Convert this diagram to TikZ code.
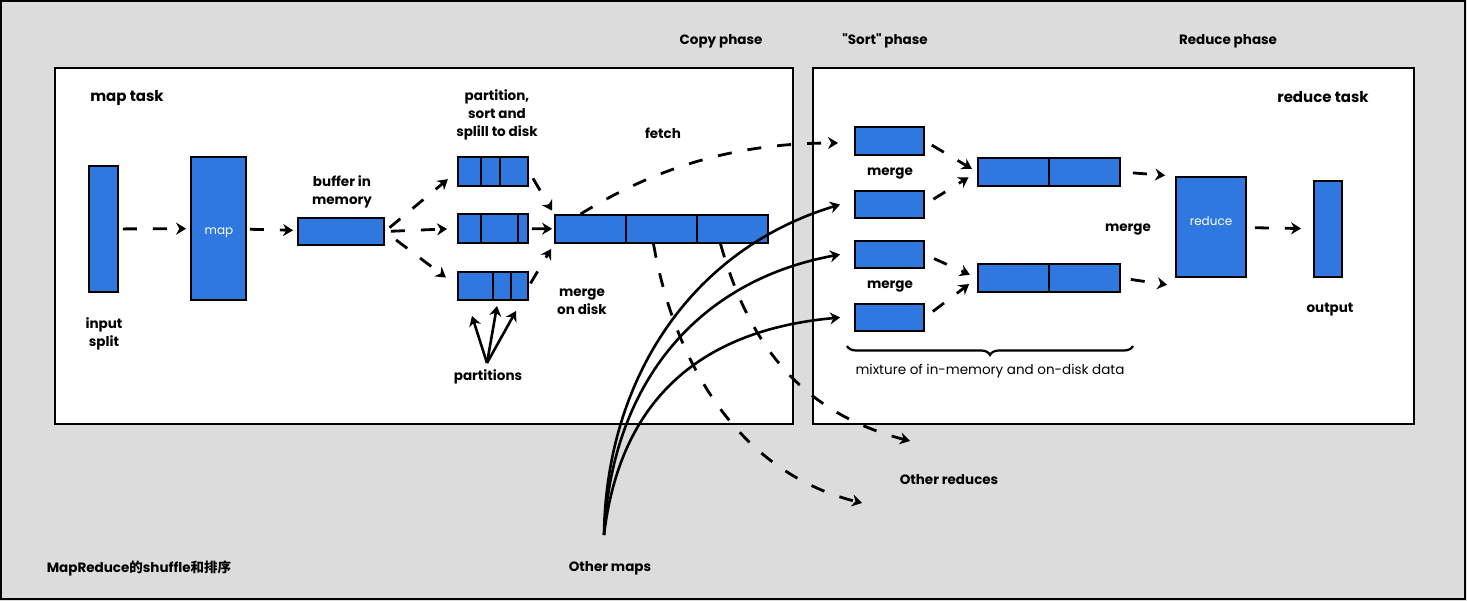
\documentclass[tikz,border=0pt]{standalone}
\usepackage{fontspec}
\setmainfont{Poppins}
\newfontfamily\plainq{Poppins}[Ligatures=TeXOff]
\newfontfamily\cjk{Noto Sans CJK SC}
\usetikzlibrary{arrows.meta,decorations.pathreplacing}
\definecolor{boxblue}{HTML}{2E78E0}
\definecolor{bggray}{HTML}{DCDCDC}
\begin{document}
\begin{tikzpicture}[x=1pt,y=-1pt,
  blk/.style={draw=black,fill=boxblue,line width=1.8pt,inner sep=0pt},
  panel/.style={draw=black,fill=white,line width=2pt},
  lbl/.style={font=\fontsize{13.5}{18}\selectfont\bfseries,align=center,inner sep=0pt},
  title/.style={font=\fontsize{15}{18}\selectfont\bfseries,inner sep=0pt},
  intext/.style={text=white,font=\fontsize{12}{14}\selectfont,inner sep=0pt},
  dasharrow/.style={line width=2.8pt,dash pattern=on 14pt off 16pt,-{Stealth[length=10pt,width=12pt]}},
  solidarrow/.style={line width=2.6pt,-{Stealth[length=10pt,width=12pt]}},
  divider/.style={line width=2.2pt}
]
\useasboundingbox (0,0) rectangle (1467,601);
\fill[bggray] (0,0) rectangle (1467,601);
\draw[line width=2pt] (1,1) rectangle (1465,599);
% panels
\draw[panel] (55,68) rectangle (793,424);
\draw[panel] (813,68) rectangle (1414,424);
% phase labels
\node[lbl] (copyph) at (721,41) {Copy phase};
\node[lbl] (sortph) at (885,41) {{\plainq "}Sort{\plainq "} phase};
\node[lbl] (redph) at (1228,41) {Reduce phase};
\node[title] (maptask) at (127,98) {map task};
\node[title] (redtask) at (1323,97) {reduce task};
% map side blocks
\node[blk,minimum width=29pt,minimum height=126pt] (insplit) at (103.5,229) {};
\node[blk,minimum width=55pt,minimum height=143pt] (map) at (218.5,228.5) {};
\node[intext] (maptxt) at (219,233) {map};
\node[blk,minimum width=86pt,minimum height=27pt] (buf) at (341,231.5) {};
\node[blk,minimum width=70pt,minimum height=29pt] (p1) at (493,171.5) {};
\node[blk,minimum width=70pt,minimum height=29pt] (p2) at (493,228.5) {};
\node[blk,minimum width=70pt,minimum height=28pt] (p3) at (493,286) {};
\draw[divider] (481,157) -- (481,186) (500,157) -- (500,186);
\draw[divider] (481,214) -- (481,243) (518,214) -- (518,243);
\draw[divider] (493,272) -- (493,300) (511,272) -- (511,300);
\node[blk,minimum width=71pt,minimum height=28pt] (m1) at (590.5,229) {};
\node[blk,minimum width=71pt,minimum height=28pt] (m2) at (661.5,229) {};
\node[blk,minimum width=71pt,minimum height=28pt] (m3) at (732.5,229) {};
% map side labels
\node[lbl] (inlbl) at (104,334) {input\\split};
\node[lbl] (buflbl) at (342,192) {buffer in\\memory};
\node[lbl] (partlbl) at (497,115) {partition,\\sort and\\splill to disk};
\node[lbl] (fetchlbl) at (663,133) {fetch};
\node[lbl] (mdlbl) at (582,302) {merge\\on disk};
\node[lbl] (partslbl) at (488,377) {partitions};
\coordinate (pfan) at (487,363);
\coordinate (pt1) at (472,316);
\coordinate (pt2) at (497,306);
\coordinate (pt3) at (516,311);
\draw[solidarrow] (pfan) -- (pt1);
\draw[solidarrow] (pfan) -- (pt2);
\draw[solidarrow] (pfan) -- (pt3);
% reduce side blocks
\node[blk,minimum width=69pt,minimum height=28pt] (r1) at (889.5,141) {};
\node[blk,minimum width=69pt,minimum height=27pt] (r2) at (889.5,204.5) {};
\node[blk,minimum width=69pt,minimum height=27pt] (r3) at (889.5,254.5) {};
\node[blk,minimum width=69pt,minimum height=27pt] (r4) at (889.5,317.5) {};
\node[blk,minimum width=71pt,minimum height=28pt] (g1a) at (1013.5,172) {};
\node[blk,minimum width=71pt,minimum height=28pt] (g1b) at (1084.5,172) {};
\node[blk,minimum width=71pt,minimum height=28pt] (g2a) at (1013.5,278) {};
\node[blk,minimum width=71pt,minimum height=28pt] (g2b) at (1084.5,278) {};
\node[blk,minimum width=70pt,minimum height=100pt] (red) at (1211,227) {};
\node[intext] (redtxt) at (1211,221) {reduce};
\node[blk,minimum width=28pt,minimum height=96pt] (out) at (1328,229) {};
\node[lbl] (mg1) at (890,174) {merge};
\node[lbl] (mg2) at (890,287) {merge};
\node[lbl] (mg3) at (1128,230) {merge};
\node[lbl] (outlbl) at (1330,310) {output};
\draw[line width=2.2pt,decorate,decoration={brace,amplitude=9pt,mirror}] (847,346) -- (1133,346);
\node[font=\fontsize{13.5}{16}\selectfont,inner sep=0pt] (mixlbl) at (990,371) {mixture of in-memory and on-disk data};
% bottom labels
\node[lbl] (othred) at (949,480) {Other reduces};
\node[lbl] (othmap) at (610,568) {Other maps};
\node[lbl] (caption) at (139,568) {MapReduce{\cjk 的}shuffle{\cjk 和排序}};
% map side connectors
\draw[dasharrow,shorten <=4pt,shorten >=4pt] (insplit) -- (map);
\draw[dasharrow,shorten <=3pt,shorten >=4pt] (map) -- (buf);
\draw[dasharrow,shorten <=6pt,shorten >=12pt] (buf.east) -- (p1.west);
\draw[dasharrow,shorten <=6pt,shorten >=10pt] (buf.east) -- (p2.west);
\draw[dasharrow,shorten <=14pt,shorten >=14pt] (buf.east) -- (p3.west);
\draw[dasharrow,shorten <=8pt,shorten >=4pt] (p1.east) -- (m1.north west);
\draw[dasharrow,shorten <=3pt,shorten >=2pt] (p2) -- (m1);
\draw[dasharrow,shorten <=3pt,shorten >=6pt] (p3.east) -- (m1.south west);
% fetch and other reduces
\coordinate (fetchend) at (838,143);
\coordinate (ored1) at (862,503);
\coordinate (ored2) at (910,441);
\draw[dasharrow] ([xshift=-10pt]m1.north) .. controls (660,165) and (740,143) .. (fetchend);
\draw[dasharrow] ([xshift=-8pt]m2.south) .. controls (672,350) and (730,470) .. (ored1);
\draw[dasharrow] ([xshift=-12pt]m3.south) .. controls (745,330) and (790,410) .. (ored2);
% other maps
\coordinate (omap) at (604,535);
\draw[solidarrow] (omap) .. controls (606,380) and (690,250) .. ([xshift=-14pt]r2.west);
\draw[solidarrow] (omap) .. controls (612,380) and (700,280) .. ([xshift=-14pt]r3.west);
\draw[solidarrow] (omap) .. controls (620,400) and (700,330) .. ([xshift=-14pt]r4.west);
% reduce side connectors
\draw[dasharrow,shorten <=8pt,shorten >=6pt] (r1.east) -- (g1a.west);
\draw[dasharrow,shorten <=10pt,shorten >=10pt] (r2.east) -- (g1a.west);
\draw[dasharrow,shorten <=10pt,shorten >=8pt] (r3.east) -- (g2a.west);
\draw[dasharrow,shorten <=10pt,shorten >=10pt] (r4.east) -- (g2a.west);
\draw[dasharrow,shorten <=12pt,shorten >=10pt] (g1b.east) -- (red.north west);
\draw[dasharrow,shorten <=10pt,shorten >=8pt] (g2b.east) -- ([yshift=-8pt]red.south west);
\draw[dasharrow,shorten <=8pt,shorten >=12pt] (red) -- (out);
\end{tikzpicture}
\end{document}
